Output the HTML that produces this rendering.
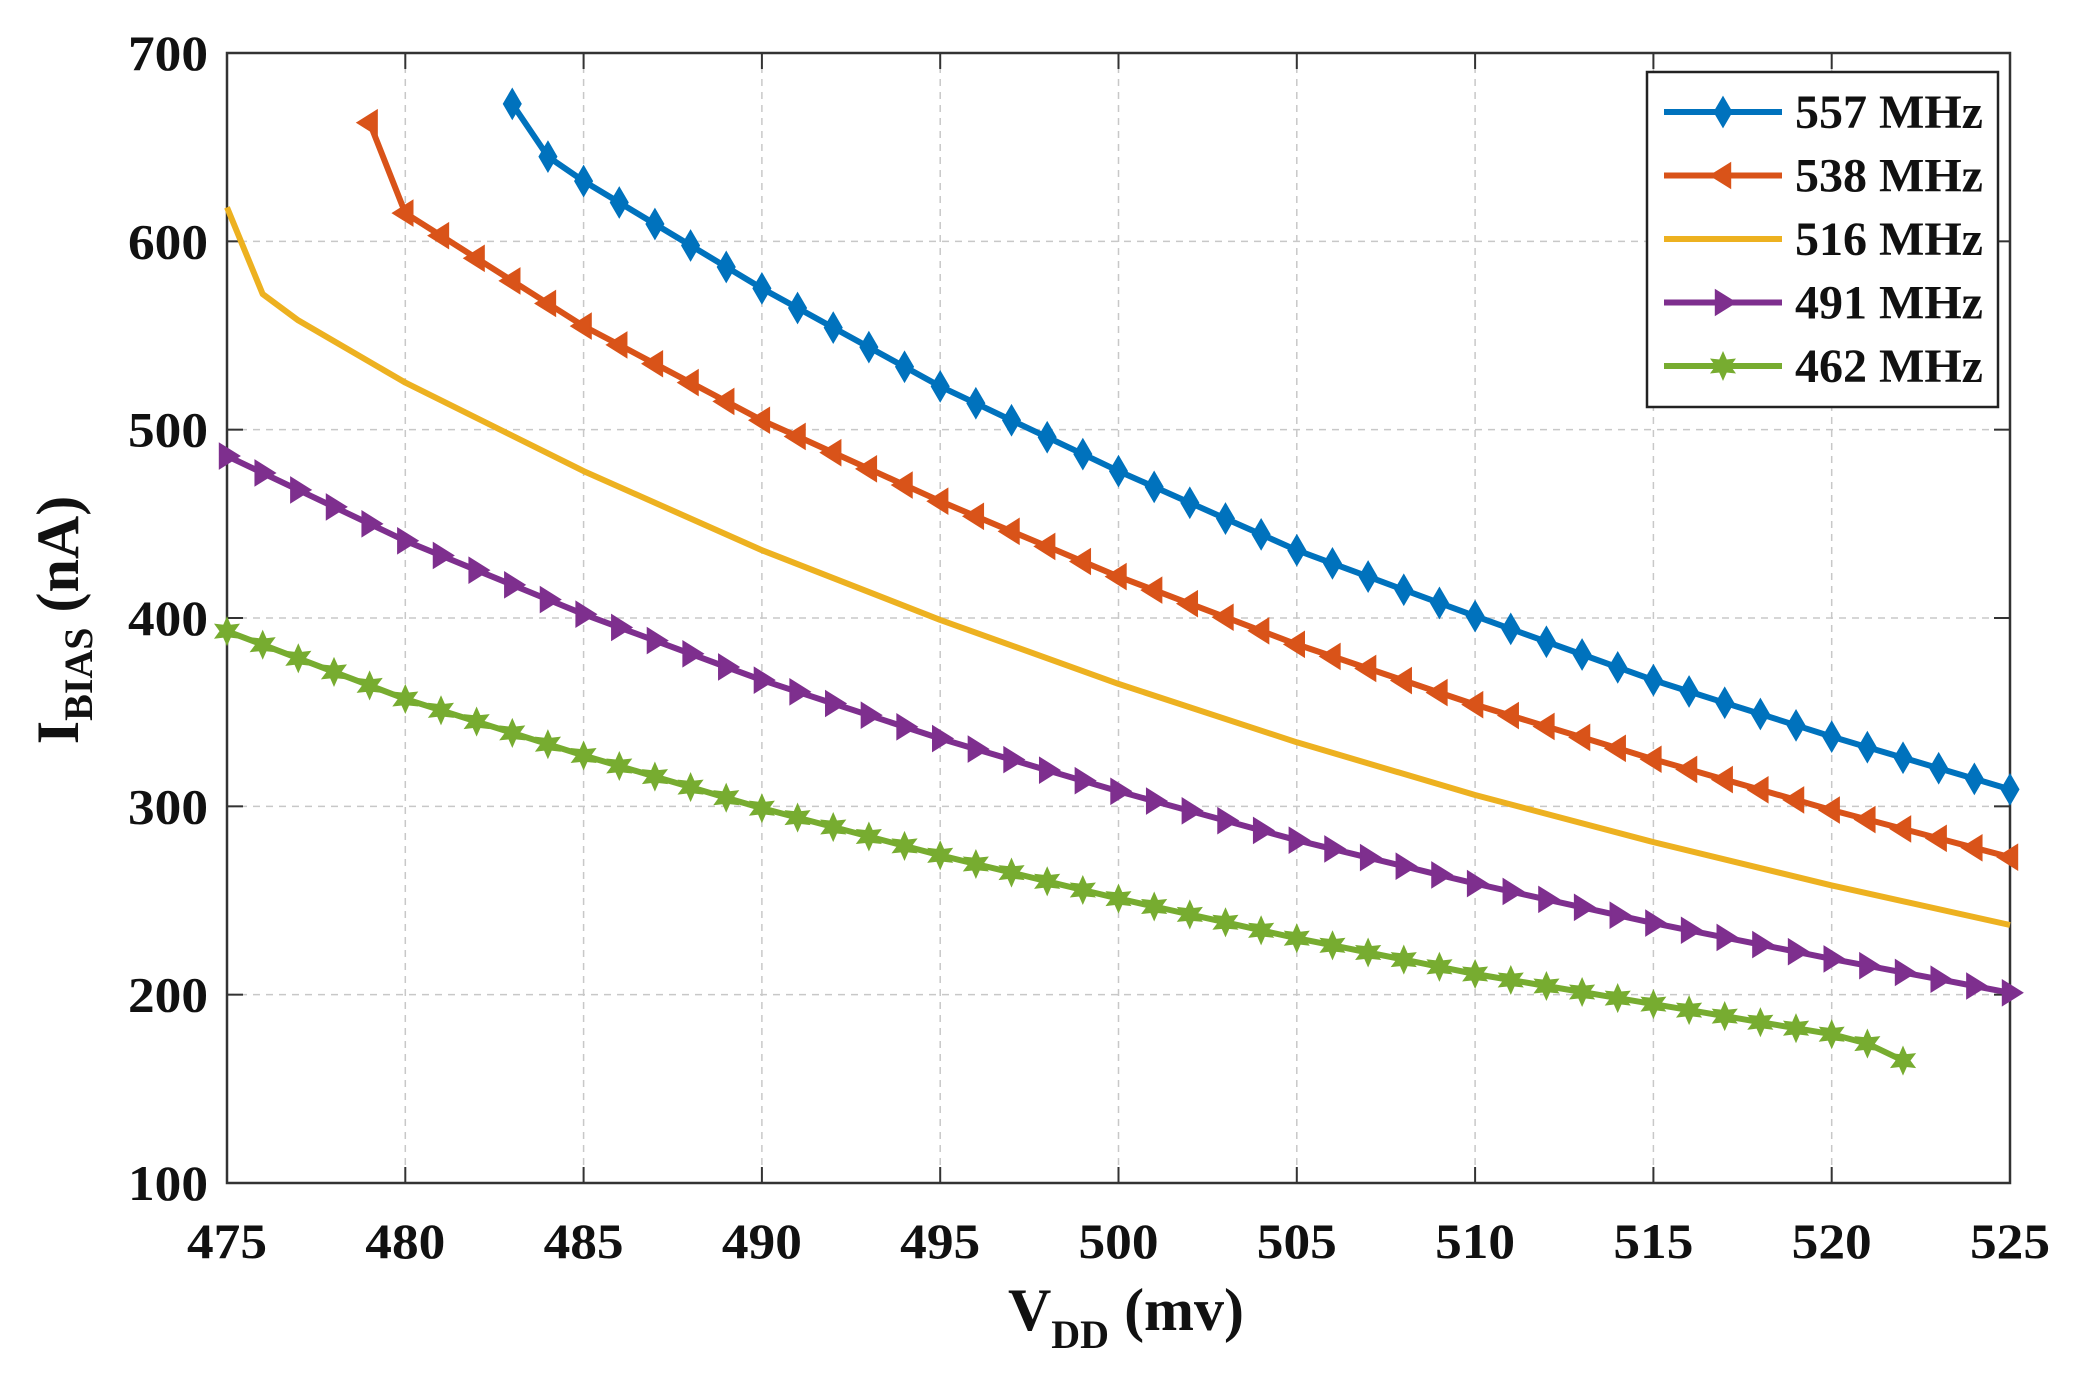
<!DOCTYPE html>
<html><head><meta charset="utf-8"><style>
html,body{margin:0;padding:0;background:#fff;}
svg{display:block;}
text{font-family:"Liberation Serif",serif;font-weight:bold;fill:#111;}
</style></head><body>
<svg id="s" width="2081" height="1387" viewBox="0 0 2081 1387" xmlns="http://www.w3.org/2000/svg"></svg>
<script>
const L=227,R=2010,T=53,B=1183;
const X=v=>L+(v-475)/50*(R-L), Y=v=>B-(v-100)/600*(B-T);
let h='';
for(let v=480;v<525;v+=5)h+=`<line x1="${X(v)}" y1="${T}" x2="${X(v)}" y2="${B}" stroke="#c8c8c8" stroke-width="1.5" stroke-dasharray="7,6"/>`;
for(let v=200;v<700;v+=100)h+=`<line x1="${L}" y1="${Y(v)}" x2="${R}" y2="${Y(v)}" stroke="#c8c8c8" stroke-width="1.5" stroke-dasharray="7,6"/>`;
for(let v=475;v<=525;v+=5){h+=`<line x1="${X(v)}" y1="${B}" x2="${X(v)}" y2="${B-16}" stroke="#333" stroke-width="2"/><line x1="${X(v)}" y1="${T}" x2="${X(v)}" y2="${T+16}" stroke="#333" stroke-width="2"/>`;
h+=`<text x="${X(v)}" y="1258" font-size="50" text-anchor="middle" textLength="80" lengthAdjust="spacingAndGlyphs">${v}</text>`;}
for(let v=100;v<=700;v+=100){h+=`<line x1="${L}" y1="${Y(v)}" x2="${L+16}" y2="${Y(v)}" stroke="#333" stroke-width="2"/><line x1="${R}" y1="${Y(v)}" x2="${R-16}" y2="${Y(v)}" stroke="#333" stroke-width="2"/>`;
h+=`<text x="208" y="${Y(v)+17}" font-size="50" text-anchor="end" textLength="80" lengthAdjust="spacingAndGlyphs">${v}</text>`;}
h+=`<rect x="${L}" y="${T}" width="${R-L}" height="${B-T}" fill="none" stroke="#333" stroke-width="2.5"/>`;
function interp(a){const o=[];for(let i=0;i<a.length-1;i++){const[x0,y0]=a[i],[x1,y1]=a[i+1];for(let x=x0;x<x1;x++)o.push([x,y0+(y1-y0)*(x-x0)/(x1-x0)]);}o.push(a[a.length-1]);return o;}
const S=[
{c:'#0072BD',m:'d',p:[[483,673],[484,645],[485,632],[490,575],[495,523],[500,478],[505,436],[510,401],[515,367],[520,337],[525,309]]},
{c:'#D95319',m:'l',p:[[479,663],[480,615],[485,555],[490,505],[495,462],[500,422],[505,386],[510,354],[515,325],[520,298],[525,273]]},
{c:'#EDB120',m:'',p:[[475,618],[476,572],[477,558],[480,525],[485,478],[490,436],[495,399],[500,365],[505,334],[510,306],[515,281],[520,258],[525,237]]},
{c:'#7E2F8E',m:'r',p:[[475,486],[480,441],[485,402],[490,367],[495,336],[500,308],[505,282],[510,259],[515,238],[520,219],[525,201]]},
{c:'#77AC30',m:'h',p:[[475,393],[480,357],[485,327],[490,299],[495,274],[500,251],[505,230],[510,211],[515,195],[520,179],[521,174],[522,165]]}];
function mk(t,x,y,c){const r=12;
if(t=='d')return `<polygon points="${x},${y-r*1.2} ${x+r*0.7},${y} ${x},${y+r*1.2} ${x-r*0.7},${y}" fill="${c}" stroke="${c}" stroke-width="2"/>`;
if(t=='l')return `<polygon points="${x-r},${y} ${x+r*0.6},${y-r} ${x+r*0.6},${y+r}" fill="${c}" stroke="${c}" stroke-width="2"/>`;
if(t=='r')return `<polygon points="${x+r},${y} ${x-r*0.6},${y-r} ${x-r*0.6},${y+r}" fill="${c}" stroke="${c}" stroke-width="2"/>`;
if(t=='h'){let p=[];for(let i=0;i<12;i++){const a=Math.PI/6*i-Math.PI/2,rr=i%2?r*0.55:r*1.1;p.push((x+rr*Math.cos(a)).toFixed(1)+','+(y+rr*Math.sin(a)).toFixed(1));}return `<polygon points="${p.join(' ')}" fill="${c}" stroke="${c}" stroke-width="1.5"/>`;}
return '';}
for(const s of S){const pts=s.m?interp(s.p):s.p;
h+=`<polyline points="${pts.map(q=>X(q[0]).toFixed(1)+','+Y(q[1]).toFixed(1)).join(' ')}" fill="none" stroke="${s.c}" stroke-width="6" stroke-linejoin="round"/>`;
if(s.m)for(const q of pts)h+=mk(s.m,X(q[0]),Y(q[1]),s.c);}
h+=`<rect x="1647" y="72" width="351" height="335" fill="#fff" stroke="#222" stroke-width="2.5"/>`;
const names=['557 MHz','538 MHz','516 MHz','491 MHz','462 MHz'];
S.forEach((s,i)=>{const y=112+i*63.5;h+=`<line x1="1664" y1="${y}" x2="1782" y2="${y}" stroke="${s.c}" stroke-width="6"/>`+mk(s.m,1723,y,s.c)+`<text x="1795" y="${y+16}" font-size="48" textLength="188" lengthAdjust="spacingAndGlyphs">${names[i]}</text>`;});
h+=`<text transform="translate(78,620) rotate(-90)" font-size="60" text-anchor="middle">I<tspan font-size="40" dy="14">BIAS</tspan><tspan dy="-14"> (nA)</tspan></text>`;
h+=`<text x="1126" y="1330" font-size="60" text-anchor="middle">V<tspan font-size="40" dy="18">DD</tspan><tspan dy="-18"> (mv)</tspan></text>`;
document.getElementById('s').innerHTML=h;
</script>
</body></html>
